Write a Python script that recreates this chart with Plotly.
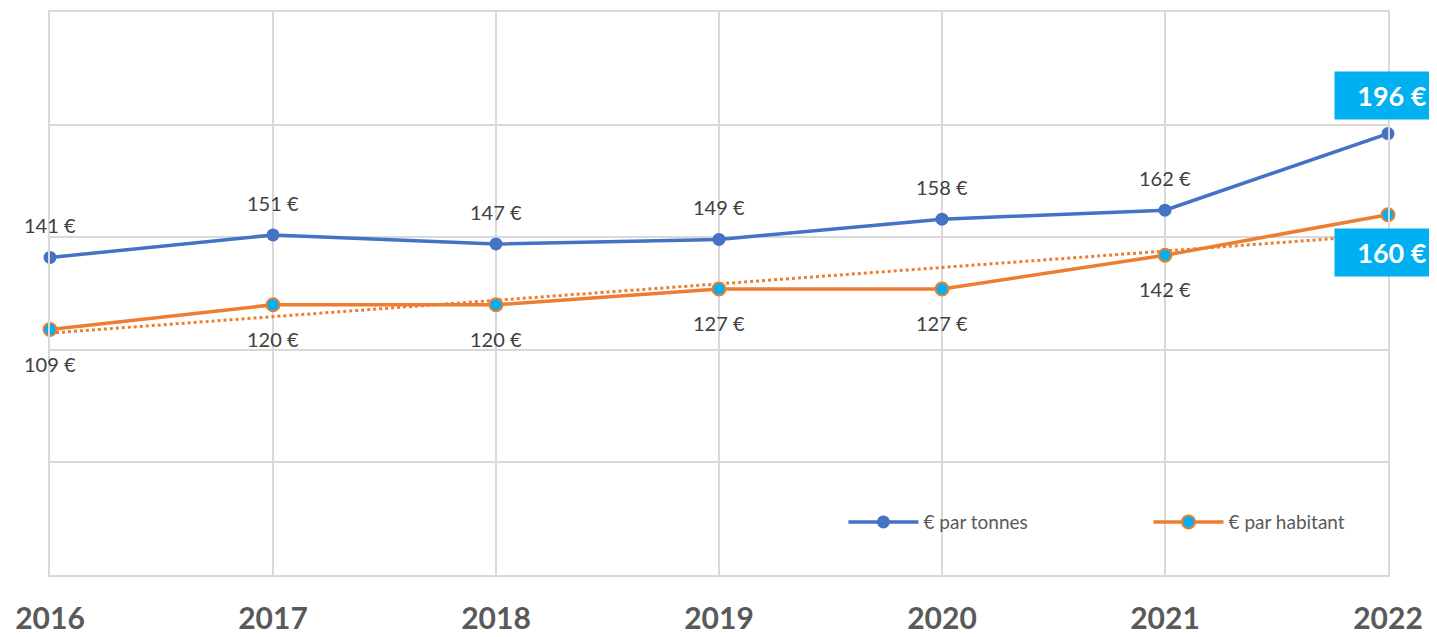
import numpy
import plotly.graph_objects as go

# data
years = [2016, 2017, 2018, 2019, 2020, 2021, 2022]
par_tonnes = [141, 151, 147, 149, 158, 162, 196]
par_habitant = [109, 120, 120, 127, 127, 142, 160]

blue = "#4472C4"
orange = "#ED7D31"
cyan = "#00B0F0"
grid = "#D9D9D9"

# linear trend on the habitant series (like Excel's trendline)
m, c = numpy.polyfit(years, par_habitant, 1)
trend = [m * x + c for x in years]

fig = go.Figure()

fig.add_trace(go.Scatter(x=years, y=trend, mode="lines", showlegend=False, cliponaxis=False,
                         line=dict(color=orange, width=3, dash="dot"), hoverinfo="skip"))

fig.add_trace(go.Scatter(x=years, y=par_tonnes, mode="lines+markers", name="€ par tonnes",
                         cliponaxis=False, legend="legend",
                         line=dict(color=blue, width=3.5),
                         marker=dict(size=13, color=blue)))

fig.add_trace(go.Scatter(x=years, y=par_habitant, mode="lines+markers", name="€ par habitant",
                         cliponaxis=False, legend="legend2",
                         line=dict(color=orange, width=3.5),
                         marker=dict(size=13, color=cyan, line=dict(color=orange, width=2))))

# data labels, last ones boxed
lab_font = dict(family="Lato", size=20, color="#404040")
for i, yr in enumerate(years[:-1]):
    fig.add_annotation(x=yr, y=par_tonnes[i], text=f"{par_tonnes[i]} €", showarrow=False,
                       yshift=32, font=lab_font)
    fig.add_annotation(x=yr, y=par_habitant[i], text=f"{par_habitant[i]} €", showarrow=False,
                       yshift=-34, font=lab_font)

box_font = dict(family="Lato", size=27, color="white", weight="bold")
fig.add_annotation(x=years[-1], y=par_tonnes[-1], text=f"{par_tonnes[-1]} €", showarrow=False,
                   yshift=38, xshift=4, bgcolor=cyan, borderpad=7, width=100, font=box_font)
fig.add_annotation(x=years[-1], y=par_habitant[-1], text=f"{par_habitant[-1]} €", showarrow=False,
                   yshift=-38, xshift=4, bgcolor=cyan, borderpad=7, width=100, font=box_font)

fig.update_xaxes(range=[2016, 2022], tickvals=years, tickformat="d",
                 showgrid=True, gridcolor=grid, gridwidth=1.5,
                 showline=True, linecolor=grid, linewidth=1.5, mirror=True,
                 ticks="", ticklabelstandoff=16,
                 tickfont=dict(family="Lato", size=30, color="#595959", weight="bold"))
fig.update_yaxes(range=[0, 250], dtick=50, showticklabels=False,
                 showgrid=True, gridcolor=grid, gridwidth=1.5, zeroline=False,
                 showline=True, linecolor=grid, linewidth=1.5, mirror=True)

leg_font = dict(family="Lato", size=19, color="#595959")
fig.update_layout(
    width=1429, height=629,
    margin=dict(l=42, r=49, t=4, b=62, autoexpand=False),
    plot_bgcolor="white", paper_bgcolor="white",
    legend=dict(x=0.593, y=0.094, xanchor="left", yanchor="middle", itemwidth=70,
                bgcolor="rgba(0,0,0,0)", font=leg_font),
    legend2=dict(x=0.821, y=0.094, xanchor="left", yanchor="middle", itemwidth=70,
                 bgcolor="rgba(0,0,0,0)", font=leg_font),
)

fig.write_html("out.html")
